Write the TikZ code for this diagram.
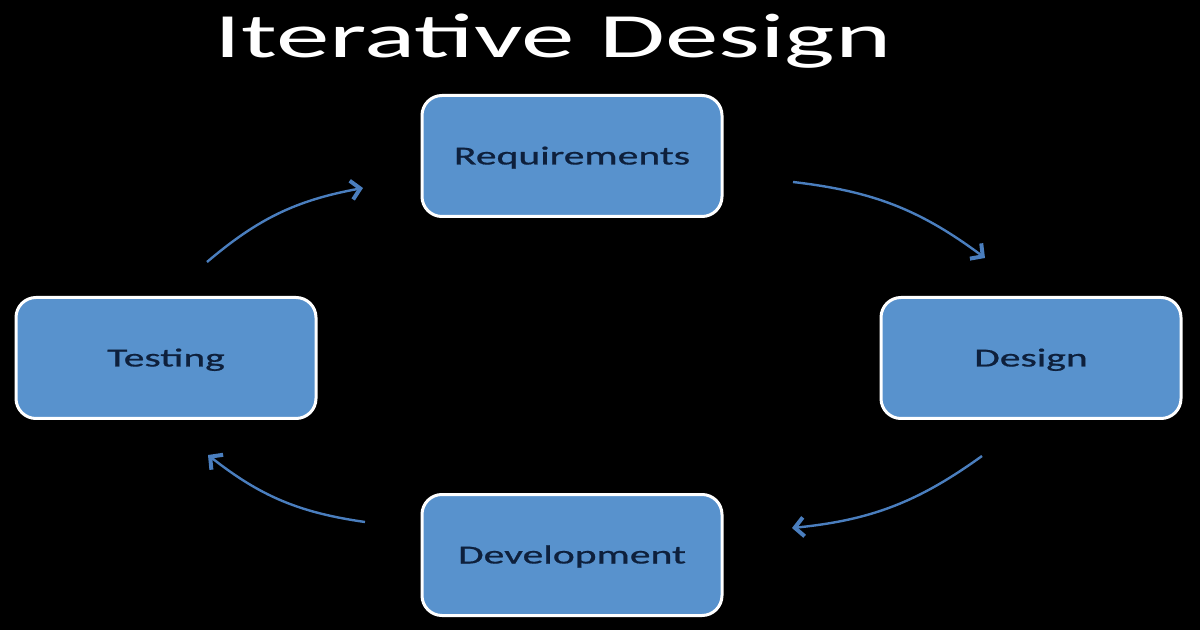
\documentclass[tikz,border=0pt]{standalone}
\usepackage{fontspec}
\usepackage{graphicx}
\setmainfont{Carlito}
\newfontfamily\boxfont{Carlito}[FakeBold=0.6]
\usetikzlibrary{arrows.meta}
\definecolor{boxfill}{RGB}{88,146,205}
\definecolor{boxtext}{RGB}{14,32,60}
\definecolor{arrowcol}{RGB}{74,126,190}
\tikzset{
  stagebox/.style={rectangle, draw=white, line width=3pt, fill=boxfill,
    rounded corners=20pt, minimum width=300pt, minimum height=121pt,
    text=boxtext, text height=17pt, text depth=0pt, inner sep=0pt,
    font=\boxfont\fontsize{26}{30}\selectfont},
  cyclearrow/.style={draw=arrowcol, line width=2.4pt, bend left=15,
    -{Straight Barb[length=9pt,width=19pt,line width=4pt]}},
}
\newcommand{\wide}[1]{\scalebox{1.6}[1]{#1}}
\begin{document}
\begin{tikzpicture}[x=1pt,y=1pt]
  \fill[black] (0,0) rectangle (1200,630);
  \useasboundingbox (0,0) rectangle (1200,630);
  \node[anchor=base, text=white, inner sep=0pt, font=\fontsize{63}{66}\selectfont] (title) at (553,572) {\scalebox{1.7}[1]{Iterative Design}};
  \node[stagebox] (req) at (572,474) {\wide{Requirements}};
  \node[stagebox] (des) at (1031,272) {\wide{Design}};
  \node[stagebox] (dev) at (572,75) {\wide{Development}};
  \node[stagebox] (tst) at (166,272) {\wide{Testing}};
  \coordinate (a1s) at (793,448);
  \coordinate (a1e) at (985,372);
  \coordinate (a2s) at (982,174);
  \coordinate (a2e) at (792,102);
  \coordinate (a3s) at (365,108);
  \coordinate (a3e) at (208,175);
  \coordinate (a4s) at (207,368);
  \coordinate (a4e) at (363,442);
  \draw[cyclearrow] (a1s) to (a1e);
  \draw[cyclearrow] (a2s) to (a2e);
  \draw[cyclearrow] (a3s) to (a3e);
  \draw[cyclearrow] (a4s) to (a4e);
\end{tikzpicture}
\end{document}
